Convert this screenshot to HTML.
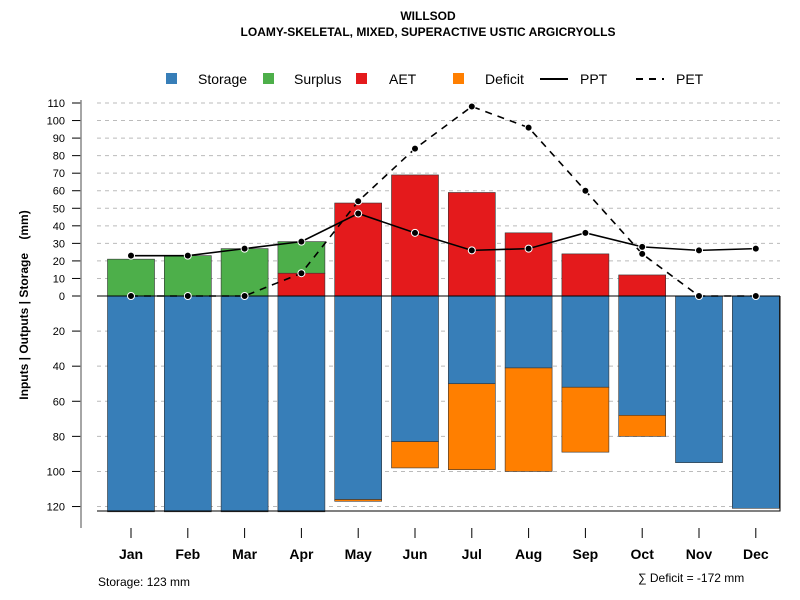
<!DOCTYPE html>
<html><head><meta charset="utf-8"><style>
body{margin:0;background:#fff}
svg{display:block;font-family:"Liberation Sans",sans-serif}
</style></head><body>
<svg id="c" width="800" height="600">
<text x="428" y="20" text-anchor="middle" font-size="12" font-weight="bold">WILLSOD</text>
<text x="428" y="36" text-anchor="middle" font-size="12" font-weight="bold">LOAMY-SKELETAL, MIXED, SUPERACTIVE USTIC ARGICRYOLLS</text>
<g id="legend">
<rect x="166" y="73" width="11" height="11" fill="#377eb8"/>
<text x="198" y="84" font-size="14">Storage</text>
<rect x="263" y="73" width="11" height="11" fill="#4daf4a"/>
<text x="294" y="84" font-size="14">Surplus</text>
<rect x="356" y="73" width="11" height="11" fill="#e41a1c"/>
<text x="389" y="84" font-size="14">AET</text>
<rect x="453" y="73" width="11" height="11" fill="#ff7f00"/>
<text x="485" y="84" font-size="14">Deficit</text>
<line x1="540" y1="79" x2="568" y2="79" stroke="#000" stroke-width="2"/>
<text x="580" y="84" font-size="14">PPT</text>
<line x1="636" y1="79" x2="664" y2="79" stroke="#000" stroke-width="2" stroke-dasharray="7,6"/>
<text x="676" y="84" font-size="14">PET</text>
</g>
<text transform="translate(28,305) rotate(-90)" text-anchor="middle" font-size="12" font-weight="bold">Inputs | Outputs | Storage&#160;&#160;&#160;&#160;(mm)</text>
<text x="98" y="586" font-size="12">Storage: 123 mm</text>
<text x="638" y="582" font-size="12">∑ Deficit = -172 mm</text>
<g id="grid"></g><g id="bars"></g><g id="lines"></g><g id="axes"></g>
</svg>
<script>
const months=["Jan","Feb","Mar","Apr","May","Jun","Jul","Aug","Sep","Oct","Nov","Dec"];
const storage=[123,123,123,123,116,83,50,41,52,68,95,121];
const deficit=[0,0,0,0,1,15,49,59,37,12,0,0];
const aet=[0,0,0,13,53,69,59,36,24,12,0,0];
const surplus=[21,23,27,18,0,0,0,0,0,0,0,0];
const ppt=[23,23,27,31,47,36,26,27,36,28,26,27];
const pet=[0,0,0,13,54,84,108,96,60,24,0,0];
const posTicks=[0,10,20,30,40,50,60,70,80,90,100,110];
const negTicks=[20,40,60,80,100,120];
const NS="http://www.w3.org/2000/svg";
const zeroY=296,k=1.7545;
const y=v=>zeroY-v*k;
const x=i=>131+i*56.8;
const bw=47;
function mk(tag,attrs,parent){const e=document.createElementNS(NS,tag);for(const a in attrs)e.setAttribute(a,attrs[a]);document.getElementById(parent).appendChild(e);return e;}
posTicks.forEach(t=>{
 if(t>0){const g=mk("line",{x1:97,x2:780,y1:y(t),y2:y(t),stroke:"#bbb","stroke-dasharray":"4,4"},"grid");
 
 }
 const tk=mk("line",{x1:72,x2:81,y1:y(t),y2:y(t),stroke:"#000"},"axes");
 
 
 const l=mk("text",{x:65,y:y(t)+4,"text-anchor":"end","font-size":11},"axes");l.textContent=t;
 
 
});
negTicks.forEach(t=>{
 const g=mk("line",{x1:97,x2:780,y1:y(-t),y2:y(-t),stroke:"#bbb","stroke-dasharray":"4,4"},"grid");
 
 
 const tk=mk("line",{x1:72,x2:81,y1:y(-t),y2:y(-t),stroke:"#000"},"axes");
 
 
 const l=mk("text",{x:65,y:y(-t)+4,"text-anchor":"end","font-size":11},"axes");l.textContent=t;
 
 
});
function bar(i,top,bot,fill,name){
 if(Math.abs(top-bot)<0.01)return;
 const r=mk("rect",{x:x(i)-bw/2,y:y(top),width:bw,height:y(bot)-y(top),fill:fill,stroke:"#333","stroke-width":0.6},"bars");
 
 
}
months.forEach((m,i)=>{
 bar(i,0,-storage[i],"#377eb8","storage-bar-"+m.toLowerCase());
 bar(i,-storage[i],-storage[i]-deficit[i],"#ff7f00","deficit-bar-"+m.toLowerCase());
 bar(i,aet[i],0,"#e41a1c","aet-bar-"+m.toLowerCase());
 bar(i,aet[i]+surplus[i],aet[i],"#4daf4a","surplus-bar-"+m.toLowerCase());
 const tk=mk("line",{x1:x(i),x2:x(i),y1:528,y2:538,stroke:"#000"},"axes");
 
 
 const l=mk("text",{x:x(i),y:559,"text-anchor":"middle","font-size":14,"font-weight":"bold"},"axes");l.textContent=m;
 
 
});
const zl=mk("line",{x1:97,x2:780,y1:zeroY,y2:zeroY,stroke:"#000","stroke-width":1},"bars");


const fr=mk("polyline",{points:"97,511 780,511 780,296",fill:"none",stroke:"#000","stroke-width":1},"axes");


const ax=mk("line",{x1:81,x2:81,y1:100,y2:528,stroke:"#888","stroke-width":1.5},"axes");


function series(vals,dash,name){
 const p=mk("polyline",{points:vals.map((v,i)=>x(i)+","+y(v)).join(" "),fill:"none",stroke:"#000","stroke-width":1.6,"stroke-dasharray":dash},"lines");
 
 
 vals.forEach((v,i)=>{const c=mk("circle",{cx:x(i),cy:y(v),r:3.5,fill:"#000",stroke:"#fff","stroke-width":1},"lines");
 
 });
}
series(ppt,"none","ppt");
series(pet,"7,6","pet");
</script>
</body></html>
